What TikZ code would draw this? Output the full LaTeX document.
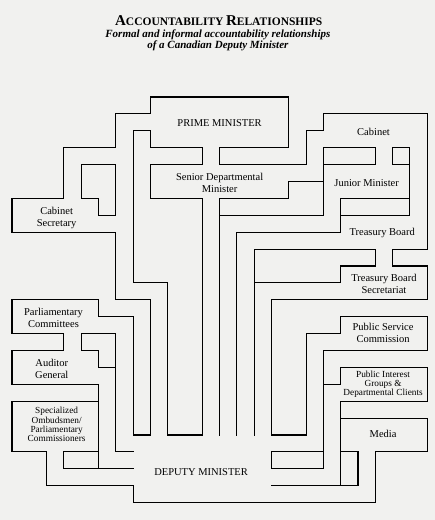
\documentclass[tikz,border=0pt]{standalone}
\usepackage{fontspec}
\setmainfont{Liberation Serif}
\usepackage{tikz}
\usepackage{xcolor}
\definecolor{paper}{RGB}{241,241,239}

\begin{document}
\begin{tikzpicture}[
    x=17.3pt, y=-16.9pt,
    wall/.style={line width=1.1pt, line cap=rect, line join=miter},
    lbl/.style={align=center, inner sep=0pt, font=\fontsize{10.5}{12}\selectfont},
    fine/.style={align=center, inner sep=0pt, font=\fontsize{9.3}{9.4}\selectfont}
]
\fill[paper] (-0.6936,-5.7396) rectangle (24.4509,25.0296);
\useasboundingbox (-0.6936,-5.7396) rectangle (24.4509,25.0296);

\node[inner sep=0pt, font=\bfseries] (title) at (11.95,-4.52)
    {{\fontsize{15}{15}\selectfont A}{\fontsize{11.5}{12}\selectfont CCOUNTABILITY} {\fontsize{15}{15}\selectfont R}{\fontsize{11.5}{12}\selectfont ELATIONSHIPS}};
\node[align=center, inner sep=0pt, font=\fontsize{11}{10.5}\selectfont\bfseries\itshape] (subtitle) at (11.9,-3.36)
    {Formal and informal accountability relationships\\of a Canadian Deputy Minister};

\draw[wall] (8,1) -- (8,0) -- (16,0) -- (16,3) -- (12,3) -- (12,4) -- (17,4) -- (17,2) -- (18,2) -- (18,1)
    -- (24,1) -- (24,9) -- (22,9) -- (22,10) -- (24,10) -- (24,12) -- (15,12) -- (15,20) -- (17,20)
    -- (17,14) -- (19,14) -- (19,13) -- (24,13) -- (24,15) -- (18,15) -- (18,22) -- (15,22) -- (15,21) -- (18,21);
\draw[wall] (8,1) -- (6,1) -- (6,3) -- (3,3) -- (3,6) -- (0,6) -- (0,8) -- (6,8) -- (6,12) -- (8,12) -- (8,20)
    -- (7,20) -- (7,13) -- (5,13) -- (5,12) -- (0,12) -- (0,14) -- (3,14) -- (3,15) -- (0,15) -- (0,17) -- (5,17) -- (5,22);
\draw[wall] (8,3) -- (8,2) -- (7,2) -- (7,11) -- (9,11) -- (9,20) -- (11,20) -- (11,6) -- (8,6) -- (8,4) -- (11,4) -- (11,3) -- cycle;
\draw[wall] (4,4) -- (6,4) -- (6,7) -- (5,7) -- (5,6) -- (4,6) -- cycle;
\draw[wall] (7,21) -- (6,21) -- (6,14) -- (4,14) -- (4,15) -- (5,15) -- (5,16) -- (6,16);
\draw[wall] (5,18) -- (0,18) -- (0,21) -- (2,21) -- (2,23) -- (7,23) -- (7,24) -- (21,24) -- (21,21) -- (24,21) -- (24,19) -- (19,19);
\draw[wall] (5,21) -- (3,21) -- (3,22) -- (7,22);
\draw[wall] (12,20) -- (12,6) -- (16,6) -- (16,5) -- (18,5);
\draw[wall] (12,7) -- (18,7) -- (18,3) -- (21,3) -- (21,4) -- (18,4);
\draw[wall] (13,20) -- (13,8) -- (19,8) -- (19,6) -- (23,6);
\draw[wall] (19,7) -- (23,7) -- (23,3) -- (22,3) -- (22,4) -- (23,4);
\draw[wall] (14,20) -- (14,9) -- (21,9) -- (21,10) -- (19,10) -- (19,11) -- (14,11);
\draw[wall] (19,18) -- (24,18) -- (24,16) -- (19,16) -- (19,17) -- (18,17);
\draw[wall] (19,18) -- (19,23) -- (15,23);
\draw[wall] (19,23) -- (20,23) -- (20,21) -- (19,21);

\node[lbl] (pm) at (12,1.55) {PRIME MINISTER};
\node[lbl] (sdm) at (12,5.08) {Senior Departmental\\Minister};
\node[lbl] (cab) at (20.9,2.05) {Cabinet};
\node[lbl] (jm) at (20.5,5.07) {Junior Minister};
\node[lbl] (tb) at (21.4,8.03) {Treasury Board};
\node[lbl] (tbs) at (21.5,11.03) {Treasury Board\\Secretariat};
\node[lbl] (psc) at (21.45,13.97) {Public Service\\Commission};
\node[fine] (pig) at (21.45,17.0) {Public Interest\\Groups \&\\Departmental Clients};
\node[lbl] (media) at (21.45,19.94) {Media};
\node[lbl] (cs) at (2.58,7.16) {Cabinet\\Secretary};
\node[lbl] (pc) at (2.4,13.05) {Parliamentary\\Committees};
\node[lbl] (ag) at (2.3,16.07) {Auditor\\General};
\node[fine] (spec) at (2.58,19.38) {Specialized\\Ombudsmen/\\Parliamentary\\Commissioners};
\node[lbl] (dm) at (10.93,22.17) {DEPUTY MINISTER};
\end{tikzpicture}
\end{document}
